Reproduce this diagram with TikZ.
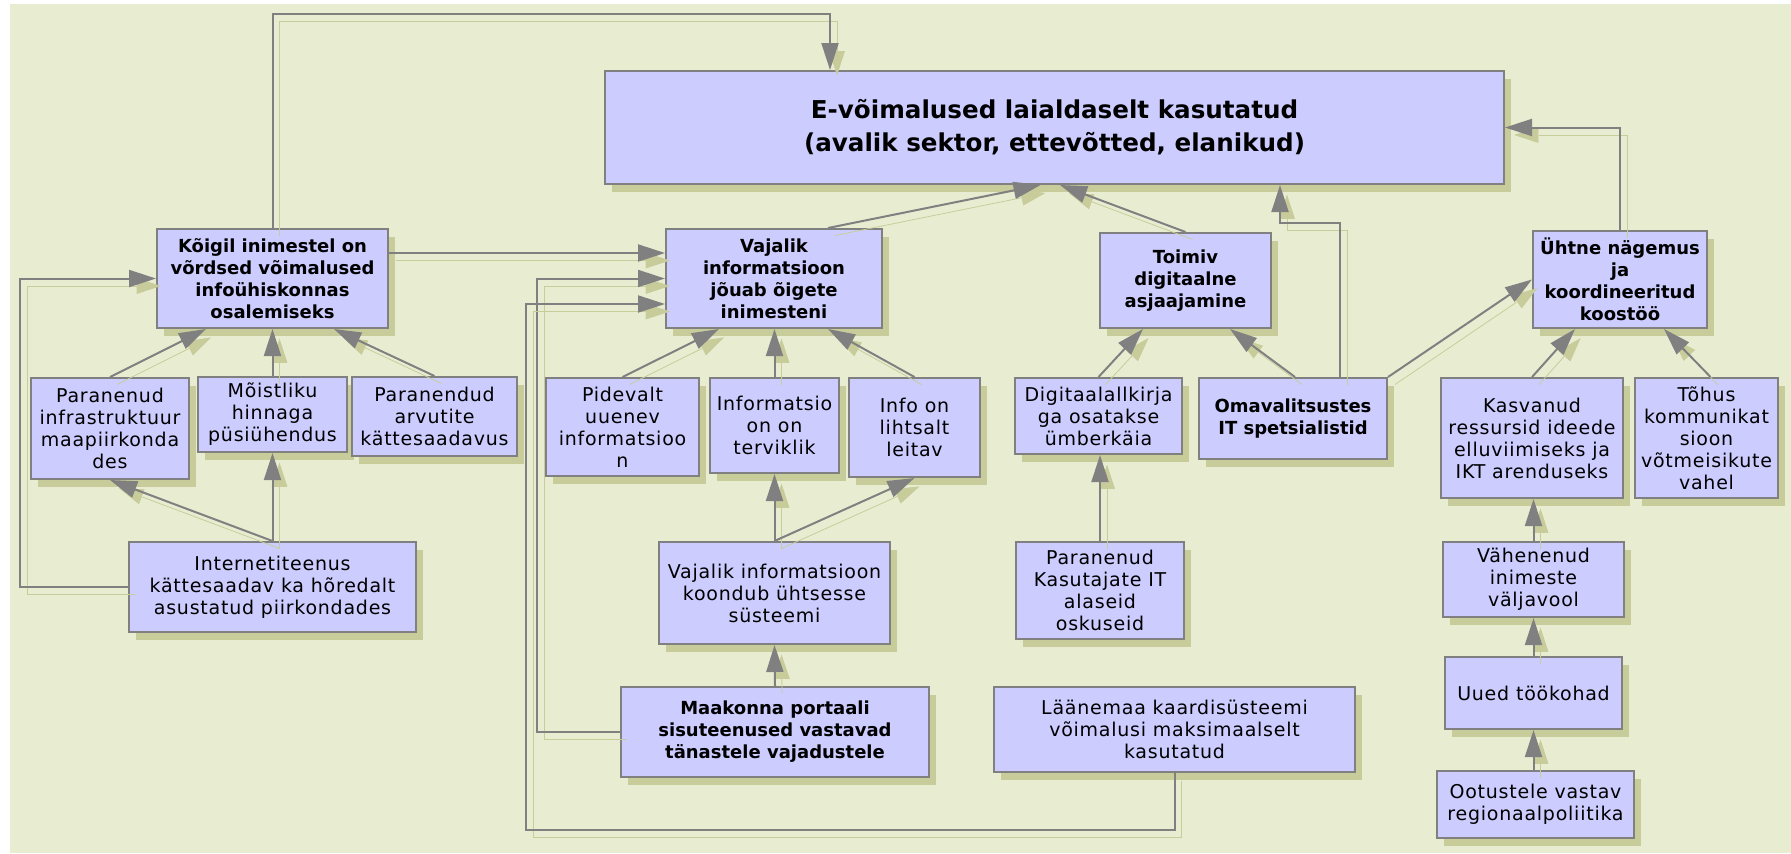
\documentclass[tikz,border=0pt]{standalone}
\usepackage{fontspec}
\setmainfont{DejaVu Sans}
\newfontfamily\boxfont{DejaVu Sans}[LetterSpace=4]
\usetikzlibrary{arrows.meta, shadows}
\usepackage{xcolor}
\definecolor{bgc}{HTML}{E8EDD2}
\definecolor{boxc}{HTML}{CCCCFF}
\definecolor{linec}{HTML}{808080}
\definecolor{shadc}{HTML}{C8CC9A}

\begin{document}
\begin{tikzpicture}[x=0.5pt, y=-0.5pt, >={Triangle[length=13.5pt,width=8.5pt]}]
				\tikzstyle{box} = [draw=linec, fill=boxc, line width=1pt, inner sep=1pt, align=center, font=\boxfont\fontsize{9.5}{11}\selectfont, drop shadow={shadow xshift=3.5pt, shadow yshift=-4pt, fill=shadc, opacity=1}]
				\tikzstyle{boldbox} = [box, font=\fontsize{9}{11}\selectfont\bfseries]
				\tikzstyle{link} = [->, draw=linec, line width=1pt, preaction={draw=shadc, transform canvas={shift={(3.5pt,-3.75pt)}}}]
				
				\useasboundingbox (0,0) rectangle (1791,853);
				\fill[bgc] (10,4) rectangle (1791,853);
				
				\node[boldbox, minimum width=449.5pt, minimum height=56.5pt, font=\fontsize{12.3}{16.5}\selectfont\bfseries] at (1054.5,127.5) (emain) {E-võimalused laialdaselt kasutatud\\(avalik sektor, ettevõtted, elanikud)};
				
				\node[boldbox, minimum width=115.5pt, minimum height=49.5pt]	at (272.5,278.5)	(koigil)	{Kõigil inimestel on\\võrdsed võimalused\\infoühiskonnas\\osalemiseks};
				\node[boldbox, minimum width=108pt, minimum height=49.5pt]		at (774,278.5)		(vajalik)	{Vajalik\\informatsioon\\jõuab õigete\\inimesteni};
				\node[boldbox, minimum width=85.5pt, minimum height=47.5pt]		at (1185.5,280.5)	(toimiv)	{Toimiv\\digitaalne\\asjaajamine};
				\node[boldbox, minimum width=87pt, minimum height=48.5pt]		at (1620,279.5)		(uhtne)		{Ühtne nägemus\\ja\\koordineeritud\\koostöö};
				
				\node[box, minimum width=79pt, minimum height=50.5pt]		at (110,428.5)		(infra)		{Paranenud\\infrastruktuur\\maapiirkonda\\des};
				\node[box, minimum width=74.5pt, minimum height=37.5pt]		at (272.5,414.5)	(moistlik)	{Mõistliku\\hinnaga\\püsiühendus};
				\node[box, minimum width=82.5pt, minimum height=39.5pt]		at (434.5,416.5)	(arvutid)	{Paranendud\\arvutite\\kättesaadavus};
				\node[box, minimum width=76.5pt, minimum height=49pt]		at (622.5,427)		(pidev)		{Pidevalt\\uuenev\\informatsioo\\n};
				\node[box, minimum width=64.5pt, minimum height=47.5pt]		at (774.5,425.5)	(tervik)	{Informatsio\\on on\\terviklik};
				\node[box, minimum width=65.5pt, minimum height=49.5pt]		at (914.5,427.5)	(leitav)	{Info on\\lihtsalt\\leitav};
				\node[box, minimum width=83.5pt, minimum height=38pt]		at (1098.5,416)		(digiallk)	{Digitaalallkirja\\ga osatakse\\ümberkäia};
				\node[boldbox, minimum width=94pt, minimum height=40.5pt]	at (1293,418.5)		(omav)		{Omavalitsustes\\IT spetsialistid};
				\node[box, minimum width=91pt, minimum height=60pt]			at (1532,438)		(ressurss)	{Kasvanud\\ressursid ideede\\elluviimiseks ja\\IKT arenduseks};
				\node[box, minimum width=71.5pt, minimum height=60pt]		at (1706.5,438)		(kommunik)	{Tõhus\\kommunikat\\sioon\\võtmeisikute\\vahel};
				
				\node[box, minimum width=143.5pt, minimum height=45pt]		at (272.5,587)		(internet)	{Internetiteenus\\kättesaadav ka hõredalt\\asustatud piirkondades};
				\node[box, minimum width=115.5pt, minimum height=51pt]		at (774.5,593)		(koondub)	{Vajalik informatsioon\\koondub ühtsesse\\süsteemi};
				\node[box, minimum width=84pt, minimum height=48.5pt]		at (1100,590.5)		(oskused)	{Paranenud\\Kasutajate IT\\alaseid\\oskuseid};
				\node[box, minimum width=90.5pt, minimum height=37.5pt]		at (1533.5,579.5)	(valjavool)	{Vähenenud\\inimeste\\väljavool};
				\node[box, minimum width=88.5pt, minimum height=36pt]		at (1533.5,693)		(tookohad)	{Uued töökohad};
				\node[boldbox, minimum width=154pt, minimum height=45pt]	at (775,732)		(portaal)	{Maakonna portaali\\sisuteenused vastavad\\tänastele vajadustele};
				\node[box, minimum width=180.5pt, minimum height=42.5pt]	at (1174.5,729.5)	(kaart)		{Läänemaa kaardisüsteemi\\võimalusi maksimaalselt\\kasutatud};
				\node[box, minimum width=98.5pt, minimum height=33.5pt]		at (1535.5,804.5)	(regpol)	{Ootustele vastav\\regionaalpoliitika};
				
				\coordinate (toprun)	at (830,14);
				\coordinate (leftrun)	at (20,0);
				\coordinate (midrun)	at (537,0);
				\coordinate (lowrun)	at (526,830);
				\coordinate (omavrun)	at (1280,223);
				
				\draw[link] (koigil.north) |- (toprun) -- (toprun |- emain.north);
				\draw[link] ([yshift=12.75pt]koigil.east) -- ([yshift=12.75pt]vajalik.west);
				\draw[link] (infra.north) -- ([xshift=25pt]koigil.south west);
				\draw[link] (moistlik.north) -- (koigil.south);
				\draw[link] (arvutid.north) -- ([xshift=-27.5pt]koigil.south east);
				\draw[link] (internet.north) -- (infra.south);
				\draw[link] (internet.north) -- (moistlik.south);
				\draw[link] (internet.west) -- (internet.west -| leftrun) |- (koigil.west);
				
				\draw[link] ([xshift=27pt]vajalik.north) -- ([xshift=-7pt]emain.south);
				\draw[link] (pidev.north) -- ([xshift=-27.5pt]vajalik.south);
				\draw[link] (tervik.north) -- (tervik.north |- vajalik.south);
				\draw[link] (leitav.north) -- ([xshift=27pt]vajalik.south);
				\draw[link] (koondub.north) -- (tervik.south);
				\draw[link] (koondub.north) -- (leitav.south);
				\draw[link] (portaal.north) -- (koondub.south);
				\draw[link] (portaal.west) -- (portaal.west -| midrun) |- (vajalik.west);
				\draw[link] (kaart.south) |- (lowrun) |- ([yshift=-12.75pt]vajalik.west);
				
				\draw[link] (toimiv.north) -- ([xshift=2.75pt]emain.south);
				\draw[link] (digiallk.north) -- ([xshift=-21.25pt]toimiv.south);
				\draw[link] (oskused.north) -- (oskused.north |- digiallk.south);
				\draw[link] ([xshift=1pt]omav.north) -- ([xshift=22.25pt]toimiv.south);
				\draw[link] ([xshift=23.5pt]omav.north) |- (omavrun) -- (omavrun |- emain.south);
				\draw[link] (omav.north east) -- (uhtne.west);
				
				\draw[link] (uhtne.north) |- (emain.east);
				\draw[link] (ressurss.north) -- ([xshift=-22.5pt]uhtne.south);
				\draw[link] ([xshift=2pt]kommunik.north) -- ([xshift=22pt]uhtne.south);
				\draw[link] (valjavool.north) -- (valjavool.north |- ressurss.south);
				\draw[link] (tookohad.north) -- (valjavool.south);
				\draw[link] (tookohad.south |- regpol.north) -- (tookohad.south);
			\end{tikzpicture}
\end{document}
